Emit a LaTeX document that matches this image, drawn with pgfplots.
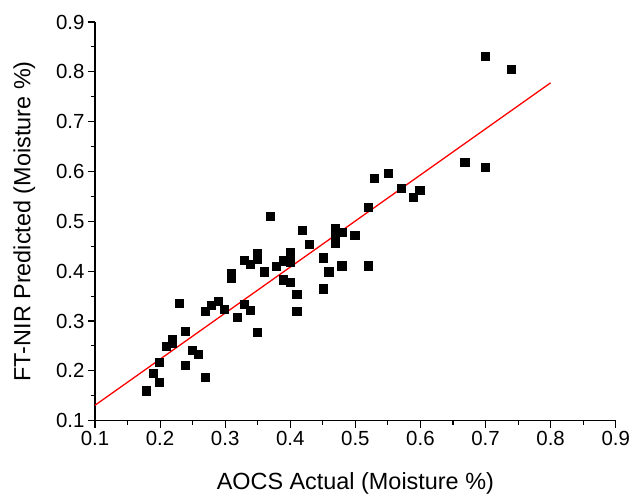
\documentclass[border=0pt]{standalone}
\usepackage{pgfplots}
\pgfplotsset{compat=1.18}
\usepackage{fontspec}
\setmainfont{Liberation Sans}

\pgfplotstableread{
x y
0.179 0.160
0.189 0.195
0.199 0.178
0.199 0.218
0.209 0.250
0.219 0.263
0.219 0.255
0.229 0.336
0.239 0.279
0.239 0.212
0.249 0.241
0.259 0.233
0.269 0.187
0.269 0.320
0.279 0.332
0.289 0.339
0.299 0.323
0.319 0.308
0.329 0.333
0.339 0.322
0.349 0.278
0.309 0.395
0.309 0.386
0.329 0.422
0.339 0.414
0.349 0.436
0.349 0.424
0.360 0.399
0.369 0.510
0.379 0.410
0.389 0.421
0.400 0.437
0.400 0.419
0.389 0.383
0.400 0.378
0.410 0.354
0.410 0.320
0.418 0.482
0.429 0.454
0.450 0.427
0.450 0.365
0.459 0.399
0.469 0.486
0.469 0.474
0.469 0.457
0.480 0.478
0.479 0.411
0.499 0.472
0.520 0.529
0.520 0.411
0.529 0.587
0.550 0.596
0.570 0.566
0.589 0.549
0.599 0.563
0.668 0.619
0.700 0.608
0.700 0.832
0.739 0.805
}\moisture

\begin{document}
\begin{tikzpicture}
\begin{axis}[
  at={(0,0)}, anchor=south west,
  scale only axis,
  width=520.7bp, height=398.7bp,
  xmin=0.1, xmax=0.9, ymin=0.1, ymax=0.9,
  xtick={0.1,0.2,...,0.9}, ytick={0.1,0.2,...,0.9},
  minor tick num=1,
  axis lines=left,
  axis line style={-, line width=1.2bp},
  tick style={black, line width=1.1bp},
  tick align=outside,
  major tick length=7bp, minor tick length=4bp,
  /pgf/number format/fixed,
  /pgf/number format/precision=1,
  /pgf/number format/fixed zerofill,
  /pgf/number format/assume math mode=true,
  tick label style={font=\fontsize{20.5}{24}\selectfont},
  xlabel={AOCS Actual (Moisture \%)},
  ylabel={FT-NIR Predicted (Moisture \%)},
  label style={font=\fontsize{23.5}{27}\selectfont},
  xlabel style={yshift=-20bp},
  ylabel style={yshift=14bp},
  clip=false,
]
\addplot[only marks, mark=square*, mark size=4.1bp, black] table {\moisture};
\addplot[red, line width=1.3bp] coordinates {(0.1,0.131) (0.8,0.778)};
\end{axis}
\pgfresetboundingbox
\path (-95bp,-76.3bp) rectangle (537bp,420.7bp);
\end{tikzpicture}
\end{document}
